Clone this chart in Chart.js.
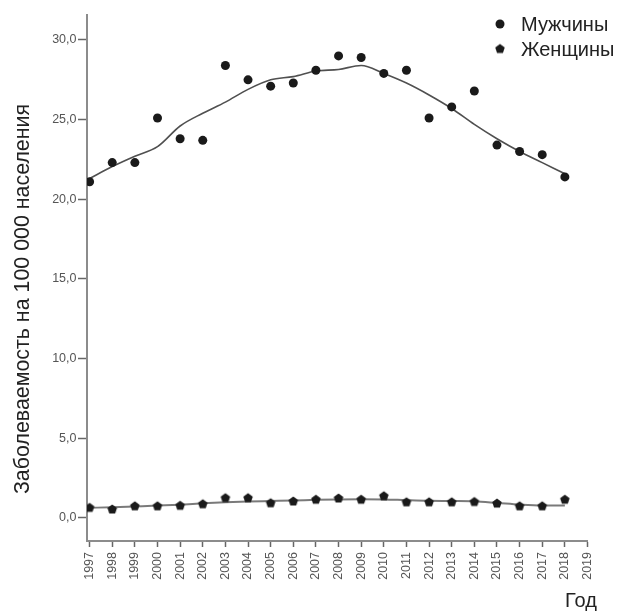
<!DOCTYPE html>
<html><head><meta charset="utf-8">
<script src="https://cdn.jsdelivr.net/npm/chart.js@4.4.1/dist/chart.umd.min.js"></script>
<style>html,body{margin:0;padding:0;background:#fff;} #wrap{width:629px;height:611px;position:relative;}</style>
</head><body><div id="wrap"><canvas id="c" width="629" height="611"></canvas></div>
<script>
const years = [1997,1998,1999,2000,2001,2002,2003,2004,2005,2006,2007,2008,2009,2010,2011,2012,2013,2014,2015,2016,2017,2018];
const yearTicks = [1997,1998,1999,2000,2001,2002,2003,2004,2005,2006,2007,2008,2009,2010,2011,2012,2013,2014,2015,2016,2017,2018,2019];
const yTicks = [0,5,10,15,20,25,30];
const menValues = [21.1,22.3,22.3,25.1,23.8,23.7,28.4,27.5,27.1,27.3,28.1,29.0,28.9,27.9,28.1,25.1,25.8,26.8,23.4,23.0,22.8,21.4];
const womenValues = [0.65,0.55,0.75,0.75,0.78,0.88,1.26,1.26,0.94,1.05,1.16,1.24,1.16,1.38,1.0,1.0,1.0,1.02,0.92,0.75,0.75,1.16];
const menFit = [21.3,22.05,22.7,23.3,24.6,25.4,26.1,26.9,27.5,27.7,28.05,28.15,28.4,27.9,27.3,26.55,25.7,24.7,23.8,23.0,22.3,21.6];
const womenFit = [0.62,0.66,0.71,0.76,0.82,0.9,0.97,1.02,1.05,1.08,1.12,1.15,1.16,1.15,1.1,1.06,1.05,1.03,0.93,0.82,0.76,0.77];
const seriesNames = ['Мужчины','Женщины'];
const axisTitleY = 'Заболеваемость на 100 000 населения';
const axisTitleX = 'Год';

const FONT = '"Liberation Sans", Arial, sans-serif';
const MARK = '#1a1a1a';

function makePentagon(r) {
  const size = Math.ceil(r * 2 + 2);
  const cv = document.createElement('canvas');
  cv.width = size; cv.height = size;
  const g = cv.getContext('2d');
  const cx = size / 2, cy = size / 2 + r * 0.1;
  g.beginPath();
  for (let i = 0; i < 5; i++) {
    const a = -Math.PI / 2 + i * 2 * Math.PI / 5;
    const px = cx + r * Math.cos(a), py = cy + r * Math.sin(a);
    if (i === 0) g.moveTo(px, py); else g.lineTo(px, py);
  }
  g.closePath();
  g.fillStyle = MARK;
  g.fill();
  return cv;
}
const pentagon = makePentagon(5);

const toXY = (arr) => years.map((y, i) => ({x: y, y: arr[i]}));

const overlay = {
  id: 'overlay',
  afterDraw(chart) {
    const ctx = chart.ctx;
    ctx.save();
    // legend
    ctx.fillStyle = MARK;
    ctx.beginPath();
    ctx.arc(500, 24, 4.5, 0, Math.PI * 2);
    ctx.fill();
    ctx.drawImage(pentagon, 500 - pentagon.width / 2, 48.5 - pentagon.height / 2);
    ctx.fillStyle = '#222';
    ctx.font = '20px ' + FONT;
    ctx.textBaseline = 'middle';
    ctx.textAlign = 'left';
    ctx.fillText(seriesNames[0], 521, 25);
    ctx.fillText(seriesNames[1], 521, 50);
    // x title
    ctx.fillText(axisTitleX, 565, 601);
    // y title
    ctx.save();
    ctx.translate(23.5, 299);
    ctx.rotate(-Math.PI / 2);
    ctx.textAlign = 'center';
    ctx.font = '21.4px ' + FONT;
    ctx.fillText(axisTitleY, 0, 0);
    ctx.restore();
    ctx.restore();
  }
};

new Chart(document.getElementById('c'), {
  type: 'line',
  data: {
    datasets: [
      {label: seriesNames[0], data: toXY(menValues), showLine: false, pointStyle: 'circle', pointRadius: 4.5, pointBackgroundColor: MARK, pointBorderColor: MARK, pointBorderWidth: 0},
      {label: seriesNames[1], data: toXY(womenValues), showLine: false, pointStyle: pentagon, pointRadius: 5},
      {label: 'fit1', data: toXY(menFit), borderColor: '#505050', borderWidth: 1.6, pointRadius: 0, cubicInterpolationMode: 'monotone', fill: false},
      {label: 'fit2', data: toXY(womenFit), borderColor: '#7a7a7a', borderWidth: 2, pointRadius: 0, cubicInterpolationMode: 'monotone', fill: false}
    ]
  },
  options: {
    responsive: false,
    animation: false,
    devicePixelRatio: 1,
    layout: {padding: {top: 15, right: 41.5, left: 0, bottom: 0}},
    plugins: {legend: {display: false}, tooltip: {enabled: false}},
    scales: {
      x: {
        type: 'linear', min: 1996.885, max: 2019,
        afterBuildTicks: s => { s.ticks = yearTicks.map(v => ({value: v})); },
        afterFit: s => { s.height = 70; },
        ticks: {autoSkip: false, maxRotation: 90, minRotation: 90, padding: 5, color: '#555', font: {family: FONT, size: 12.5}, callback: v => String(v)},
        grid: {display: true, drawOnChartArea: false, drawTicks: true, tickLength: 6, tickColor: '#666', tickWidth: 1.5},
        border: {display: true, color: '#8c8c8c', width: 2}
      },
      y: {
        type: 'linear', min: -1.463, max: 31.57,
        afterBuildTicks: s => { s.ticks = yTicks.map(v => ({value: v})); },
        afterFit: s => { s.width = 87; },
        ticks: {padding: 1.5, color: '#555', font: {family: FONT, size: 12.5}, callback: v => v.toFixed(1).replace('.', ',')},
        grid: {display: true, drawOnChartArea: false, drawTicks: true, tickLength: 9, tickColor: '#666', tickWidth: 1.5},
        border: {display: true, color: '#8c8c8c', width: 2},
        title: {display: false}
      }
    }
  },
  plugins: [overlay]
});
</script></body></html>
